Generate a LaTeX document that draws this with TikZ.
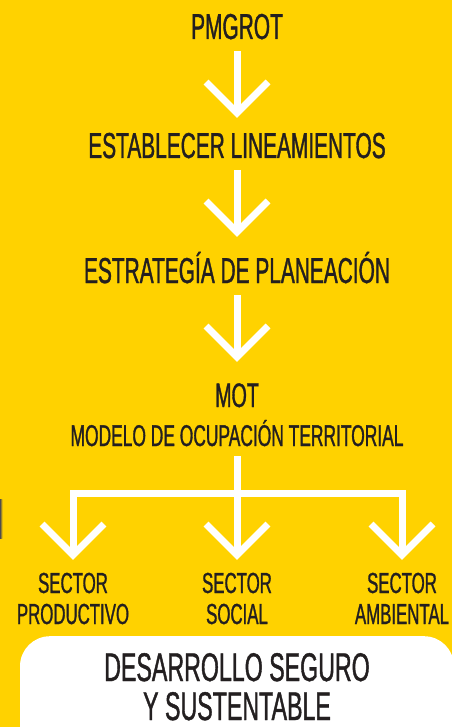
\documentclass[tikz,border=0pt]{standalone}
\usepackage{fontspec}
\setmainfont{Liberation Sans}[FakeStretch=0.58, FakeBold=1]
\usepackage{xcolor}
\usetikzlibrary{positioning, calc}
\definecolor{amarillo}{HTML}{FFD200}
\definecolor{tinta}{HTML}{231F20}

\newcommand{\punta}[1]{\draw[flecha] ($#1+(-31,31)$) -- #1 -- ($#1+(31,31)$);}

\begin{document}
\begin{tikzpicture}[x=1pt, y=1pt,
  texto/.style={text=tinta, inner sep=0pt, anchor=base, font=\fontsize{36}{38}\selectfont},
  subtexto/.style={texto, font=\fontsize{30}{32}\selectfont},
  sector/.style={texto, font=\fontsize{29}{31}\selectfont},
  metatexto/.style={texto, font=\fontsize{40}{42}\selectfont},
  flecha/.style={draw=white, line width=7pt, miter limit=10, line join=miter}]
% Background
\useasboundingbox (0,0) rectangle (452,-727);
\fill[amarillo] (0,0) rectangle (452,-727);
\shade[left color=tinta!80, right color=amarillo] (0,-499) rectangle (2.5,-538);

% Steps
\node[texto] (pmgrot) at (237,-39) {PMGROT};
\node[texto] (lineam) at (237,-158) {ESTABLECER LINEAMIENTOS};
\node[texto] (estrat) at (237,-283) {ESTRATEGÍA DE PLANEACIÓN};
\node[texto, font=\fontsize{34}{36}\selectfont] (mot) at (237,-407) {MOT};
\node[subtexto] (modelo) at (237,-446) {MODELO DE OCUPACIÓN TERRITORIAL};

% Arrows between steps
\draw[flecha] ($(pmgrot.base)+(0,-12)$) -- ++(0,-62) coordinate (v1);
\punta{(v1)}
\draw[flecha] ($(lineam.base)+(0,-12)$) -- ++(0,-62) coordinate (v2);
\punta{(v2)}
\draw[flecha] ($(estrat.base)+(0,-12)$) -- ++(0,-62) coordinate (v3);
\punta{(v3)}

% Sectors
\node[sector] (prod1) at (73,-593) {SECTOR};
\node[sector] (prod2) at (73,-624) {PRODUCTIVO};
\node[sector] (soc1) at (237,-593) {SECTOR};
\node[sector] (soc2) at (237,-624) {SOCIAL};
\node[sector] (amb1) at (402,-593) {SECTOR};
\node[sector] (amb2) at (402,-624) {AMBIENTAL};

% Tree
\coordinate (rama) at ($(modelo.base)+(0,-47)$);
\draw[flecha] ($(modelo.base)+(0,-10)$) -- ($(soc1.base)+(0,38)$) coordinate (v4);
\draw[flecha] ($(prod1.base)+(0,38)$) coordinate (v5) |- (rama) -| ($(amb1.base)+(0,38)$) coordinate (v6);
\punta{(v4)}
\punta{(v5)}
\punta{(v6)}

% Goal
\node[fill=white, rounded corners=30pt, minimum width=434pt, minimum height=140pt, anchor=north] (meta) at (237,-636) {};
\node[metatexto] (meta1) at (237,-681) {DESARROLLO SEGURO};
\node[metatexto] (meta2) at (237,-720) {Y SUSTENTABLE};
\end{tikzpicture}
\end{document}
